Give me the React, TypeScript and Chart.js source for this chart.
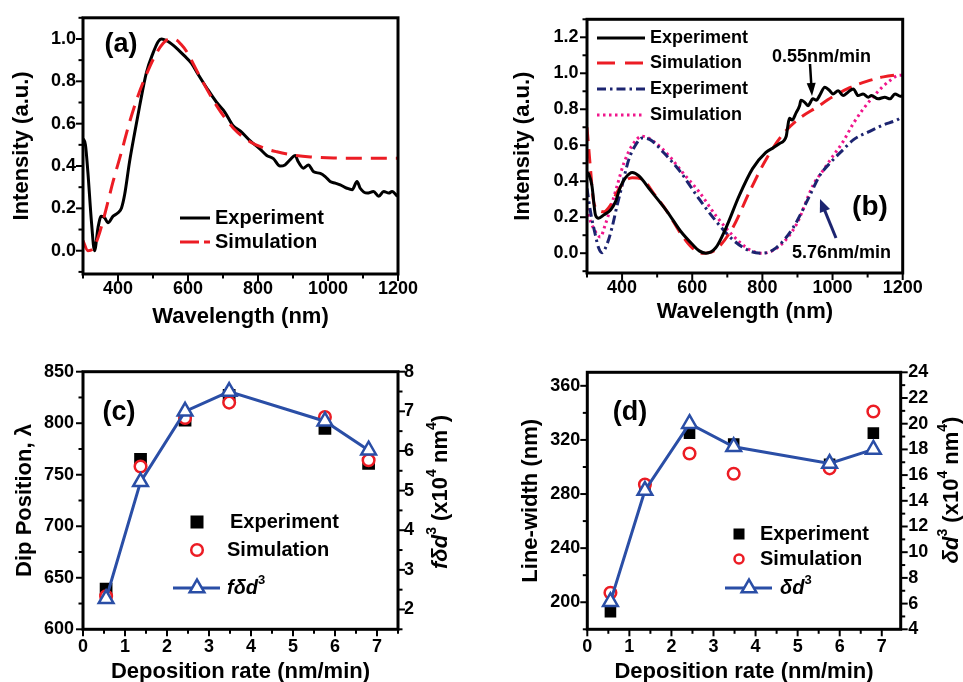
import React, { useEffect, useRef } from 'react';
import { Chart, registerables } from 'chart.js';

Chart.register(...registerables);

const FONT = '"Liberation Sans", Arial, Helvetica, sans-serif';
Chart.defaults.font.family = FONT;
Chart.defaults.color = '#000';

const BLACK = '#000000';
const RED = '#ec1c24';
const NAVY = '#1c2470';
const PINK = '#f0168c';
const BLUE = '#2a4ea6';

// ---------------- Panel (a) data ----------------
const A_EXP_WL = [300, 307, 314, 324, 333, 343, 352, 362, 371, 386, 400, 410, 419, 433, 448, 462, 481, 500, 515, 524, 543, 567, 590, 610, 630, 655, 682, 705, 729, 750, 777, 806, 825, 844, 863, 877, 892, 906, 915, 930, 944, 959, 978, 992, 1006, 1021, 1035, 1054, 1069, 1083, 1092, 1112, 1130, 1145, 1159, 1174, 1183, 1198];
const A_EXP_I = [0.53, 0.5, 0.37, 0.14, 0.0, 0.11, 0.163, 0.155, 0.132, 0.163, 0.179, 0.202, 0.265, 0.42, 0.56, 0.685, 0.84, 0.933, 0.988, 1.0, 0.988, 0.957, 0.92, 0.885, 0.83, 0.765, 0.7, 0.655, 0.59, 0.565, 0.52, 0.48, 0.45, 0.435, 0.4, 0.405, 0.43, 0.45, 0.42, 0.39, 0.405, 0.373, 0.365, 0.35, 0.327, 0.319, 0.311, 0.295, 0.288, 0.327, 0.295, 0.272, 0.28, 0.257, 0.28, 0.272, 0.28, 0.257];
const A_SIM_WL = [300, 314, 328, 343, 362, 386, 410, 433, 457, 481, 505, 529, 548, 565, 580, 596, 630, 682, 729, 777, 825, 854, 900, 950, 1016, 1100, 1200];
const A_SIM_I = [0.047, 0.0, 0.008, 0.062, 0.171, 0.327, 0.467, 0.607, 0.731, 0.832, 0.918, 0.98, 1.0, 0.997, 0.975, 0.941, 0.835, 0.684, 0.58, 0.515, 0.48, 0.467, 0.452, 0.443, 0.438, 0.437, 0.437];

// ---------------- Panel (b) data ----------------
const B_EXP055_WL = [300, 305, 314, 324, 333, 348, 367, 381, 395, 410, 429, 448, 481, 529, 567, 600, 620, 639, 667, 696, 734, 772, 810, 830, 849, 868, 872, 877, 885, 896, 906, 910, 920, 930, 944, 954, 963, 978, 992, 1001, 1016, 1030, 1044, 1059, 1073, 1087, 1102, 1111, 1130, 1149, 1164, 1178, 1193, 1200];
const B_EXP055_I = [0.45, 0.44, 0.376, 0.213, 0.194, 0.213, 0.24, 0.285, 0.367, 0.42, 0.449, 0.43, 0.349, 0.23, 0.122, 0.05, 0.013, 0.0, 0.03, 0.14, 0.32, 0.47, 0.56, 0.585, 0.61, 0.65, 0.7, 0.75, 0.74, 0.78, 0.82, 0.85, 0.84, 0.82, 0.858, 0.85, 0.876, 0.922, 0.903, 0.885, 0.903, 0.876, 0.895, 0.913, 0.876, 0.885, 0.867, 0.876, 0.858, 0.867, 0.858, 0.885, 0.873, 0.875];
const B_SIM055_WL = [300, 310, 319, 333, 348, 367, 386, 405, 429, 457, 491, 529, 567, 600, 629, 667, 715, 763, 810, 858, 906, 954, 1001, 1049, 1097, 1145, 1200];
const B_SIM055_I = [0.7, 0.467, 0.285, 0.24, 0.23, 0.267, 0.34, 0.394, 0.42, 0.412, 0.33, 0.23, 0.11, 0.03, 0.0, 0.02, 0.14, 0.34, 0.52, 0.66, 0.75, 0.81, 0.87, 0.92, 0.955, 0.98, 0.995];
const B_EXP576_WL = [300, 310, 324, 333, 343, 357, 371, 386, 400, 419, 438, 457, 481, 519, 567, 620, 667, 715, 763, 801, 839, 887, 935, 963, 997, 1030, 1059, 1106, 1145, 1183, 1200];
const B_EXP576_I = [0.36, 0.23, 0.1, 0.03, 0.003, 0.05, 0.14, 0.267, 0.376, 0.52, 0.6, 0.64, 0.63, 0.558, 0.45, 0.3, 0.18, 0.076, 0.013, 0.0, 0.03, 0.14, 0.32, 0.43, 0.51, 0.575, 0.63, 0.677, 0.713, 0.74, 0.76];
const B_SIM576_WL = [300, 310, 324, 338, 352, 367, 386, 405, 429, 457, 491, 539, 572, 620, 667, 715, 763, 801, 849, 897, 945, 973, 1001, 1030, 1059, 1087, 1116, 1140, 1164, 1183, 1200];
const B_SIM576_I = [0.25, 0.176, 0.12, 0.09, 0.158, 0.25, 0.376, 0.5, 0.6, 0.65, 0.62, 0.53, 0.45, 0.34, 0.21, 0.1, 0.02, 0.0, 0.04, 0.16, 0.38, 0.46, 0.54, 0.62, 0.72, 0.8, 0.87, 0.92, 0.96, 0.985, 0.99];

// ---------------- Panels (c), (d) data ----------------
const RATES = [0.55, 1.37, 2.43, 3.48, 5.76, 6.8];
const DIP_EXP = [639, 765, 803, 827, 795, 761];
const DIP_SIM = [632, 758, 805, 820, 806, 764];
const F_DELTA_D3 = [2.27, 5.22, 7.0, 7.5, 6.75, 6.02];
const LW_EXP = [193, 283, 325, 317, 302, 325];
const LW_SIM = [207, 287, 310, 295, 299, 341];
const DELTA_D3 = [6.15, 14.8, 20.0, 18.2, 16.9, 18.0];

// ---------------- tick labels ----------------
const WL_TICKS = [400, 600, 800, 1000, 1200];
const A_I_TICKS = [0, 0.2, 0.4, 0.6, 0.8, 1.0];
const B_I_TICKS = [0, 0.2, 0.4, 0.6, 0.8, 1.0, 1.2];
const RATE_TICKS = [0, 1, 2, 3, 4, 5, 6, 7];
const DIP_TICKS = [600, 650, 700, 750, 800, 850];
const FDD_TICKS = [2, 3, 4, 5, 6, 7, 8];
const LW_TICKS = [200, 240, 280, 320, 360];
const DD_TICKS = [4, 6, 8, 10, 12, 14, 16, 18, 20, 22, 24];

type Seg = { t: string; it?: boolean; sup?: boolean };

const pts = (xs: number[], ys: number[]) => xs.map((x, i) => ({ x, y: ys[i] }));

function segFont(s: Seg, size: number) {
  const sz = s.sup ? Math.round(size * 0.64) : size;
  return `${s.it ? 'italic ' : ''}bold ${sz}px ${FONT}`;
}
function richWidth(ctx: CanvasRenderingContext2D, segs: Seg[], size: number) {
  let w = 0;
  for (const s of segs) {
    ctx.font = segFont(s, size);
    w += ctx.measureText(s.t).width;
  }
  return w;
}
function drawRich(ctx: CanvasRenderingContext2D, segs: Seg[], x: number, y: number, size: number, align: 'left' | 'center') {
  const w = richWidth(ctx, segs, size);
  let cx = align === 'center' ? x - w / 2 : x;
  ctx.textBaseline = 'middle';
  ctx.textAlign = 'left';
  ctx.fillStyle = '#000';
  for (const s of segs) {
    ctx.font = segFont(s, size);
    ctx.fillText(s.t, cx, s.sup ? y - size * 0.38 : y);
    cx += ctx.measureText(s.t).width;
  }
}
function text(ctx: CanvasRenderingContext2D, str: string, x: number, y: number, size: number, align: CanvasTextAlign = 'left') {
  ctx.font = `bold ${size}px ${FONT}`;
  ctx.fillStyle = '#000';
  ctx.textAlign = align;
  ctx.textBaseline = 'middle';
  ctx.fillText(str, x, y);
}
function lineSample(ctx: CanvasRenderingContext2D, x1: number, x2: number, y: number, color: string, width: number, dash: number[]) {
  ctx.save();
  ctx.strokeStyle = color;
  ctx.lineWidth = width;
  ctx.setLineDash(dash);
  ctx.beginPath();
  ctx.moveTo(x1, y);
  ctx.lineTo(x2, y);
  ctx.stroke();
  ctx.restore();
}
function square(ctx: CanvasRenderingContext2D, x: number, y: number, side: number) {
  ctx.fillStyle = '#000';
  ctx.fillRect(x - side / 2, y - side / 2, side, side);
}
function circle(ctx: CanvasRenderingContext2D, x: number, y: number, r: number) {
  ctx.save();
  ctx.strokeStyle = RED;
  ctx.fillStyle = '#fff';
  ctx.lineWidth = 2.5;
  ctx.setLineDash([]);
  ctx.beginPath();
  ctx.arc(x, y, r, 0, Math.PI * 2);
  ctx.fill();
  ctx.stroke();
  ctx.restore();
}
function triangle(ctx: CanvasRenderingContext2D, x: number, y: number, r: number) {
  ctx.save();
  ctx.strokeStyle = BLUE;
  ctx.fillStyle = '#fff';
  ctx.lineWidth = 2.5;
  ctx.beginPath();
  ctx.moveTo(x, y - r);
  ctx.lineTo(x + 0.866 * r, y + r / 2);
  ctx.lineTo(x - 0.866 * r, y + r / 2);
  ctx.closePath();
  ctx.fill();
  ctx.stroke();
  ctx.restore();
}
function arrow(ctx: CanvasRenderingContext2D, x1: number, y1: number, x2: number, y2: number, color: string, lw: number, hl: number, hw: number) {
  const dx = x2 - x1, dy = y2 - y1;
  const len = Math.hypot(dx, dy);
  const ux = dx / len, uy = dy / len;
  const bx = x2 - ux * hl, by = y2 - uy * hl;
  ctx.save();
  ctx.strokeStyle = color;
  ctx.fillStyle = color;
  ctx.lineWidth = lw;
  ctx.beginPath();
  ctx.moveTo(x1, y1);
  ctx.lineTo(bx + ux * 2, by + uy * 2);
  ctx.stroke();
  ctx.beginPath();
  ctx.moveTo(x2, y2);
  ctx.lineTo(bx - uy * hw / 2, by + ux * hw / 2);
  ctx.lineTo(bx + uy * hw / 2, by - ux * hw / 2);
  ctx.closePath();
  ctx.fill();
  ctx.restore();
}

interface AxisSpec {
  id: string;
  pos: 'left' | 'right' | 'bottom';
  min: number;
  max: number;
  majors: number[];
  dec: number;
  pad: number;
  title?: string;
}
interface PanelSpec {
  rect: [number, number, number, number];
  area: [number, number, number, number];
  yTitleX: number;
  xTitleY: number;
  axes: AxisSpec[];
  datasets: any[];
  decorate: (ctx: CanvasRenderingContext2D) => void;
}

function minorsOf(majors: number[], min: number, max: number) {
  const out: number[] = [];
  const step = majors[1] - majors[0];
  for (let v = majors[0] - step / 2; v <= max + 1e-9; v += step) {
    if (v >= min - 1e-9) out.push(v);
  }
  return out;
}

function makeConfig(spec: PanelSpec): any {
  const [cx, cy, cw, ch] = spec.rect;
  const [L, T, R, B] = spec.area;
  const half = (22 * 1.2) / 2;
  const yLeft = spec.yTitleX - half;
  const xBottom = spec.xTitleY + half;
  const hasRight = spec.axes.some((a) => a.pos === 'right');
  const rightW = hasRight ? 40 : 0;

  const scales: any = {};
  for (const a of spec.axes) {
    scales[a.id] = {
      type: 'linear',
      position: a.pos,
      min: a.min,
      max: a.max,
      grid: { display: false, drawTicks: false },
      border: { display: false },
      ticks: {
        color: '#000',
        font: { family: FONT, size: 18, weight: 'bold' },
        padding: a.pad,
        maxRotation: 0,
        minRotation: 0,
        autoSkip: false,
        callback: (v: any) => Number(v).toFixed(a.dec),
      },
      afterBuildTicks: (s: any) => {
        s.ticks = a.majors.map((v) => ({ value: v }));
      },
      afterFit: (s: any) => {
        if (a.pos === 'bottom') s.height = xBottom - B;
        else if (a.pos === 'left') s.width = L - yLeft;
        else s.width = rightW;
      },
      title: a.title
        ? { display: true, text: a.title, color: '#000', font: { family: FONT, size: 22, weight: 'bold' }, padding: 0 }
        : { display: false },
    };
  }

  const deco = {
    id: 'deco',
    afterDraw(chart: any) {
      const ctx: CanvasRenderingContext2D = chart.ctx;
      const ca = chart.chartArea;
      ctx.save();
      ctx.strokeStyle = '#000';
      ctx.lineWidth = 2;
      ctx.setLineDash([]);
      for (const a of spec.axes) {
        const s = chart.scales[a.id];
        const draw = (v: number, len: number) => {
          const p = s.getPixelForValue(v);
          ctx.beginPath();
          if (a.pos === 'bottom') {
            ctx.moveTo(p, ca.bottom);
            ctx.lineTo(p, ca.bottom + len);
          } else if (a.pos === 'left') {
            ctx.moveTo(ca.left, p);
            ctx.lineTo(ca.left - len, p);
          } else {
            ctx.moveTo(ca.right, p);
            ctx.lineTo(ca.right + len, p);
          }
          ctx.stroke();
        };
        a.majors.forEach((v) => draw(v, 7));
        minorsOf(a.majors, a.min, a.max).forEach((v) => draw(v, 4.5));
      }
      ctx.lineWidth = 3;
      ctx.strokeRect(ca.left, ca.top, ca.right - ca.left, ca.bottom - ca.top);
      ctx.translate(-cx, -cy);
      spec.decorate(ctx);
      ctx.restore();
    },
  };

  return {
    type: 'line',
    data: { datasets: spec.datasets },
    options: {
      responsive: false,
      maintainAspectRatio: false,
      animation: false,
      events: [],
      layout: {
        padding: { left: yLeft - cx, top: T - cy, right: cx + cw - R - rightW, bottom: cy + ch - xBottom },
      },
      plugins: { legend: { display: false }, tooltip: { enabled: false } },
      scales,
    },
    plugins: [deco],
  };
}

const curve = (xs: number[], ys: number[], color: string, dash: number[], order: number) => ({
  data: pts(xs, ys),
  borderColor: color,
  borderWidth: 3,
  borderDash: dash,
  pointRadius: 0,
  cubicInterpolationMode: 'monotone',
  fill: false,
  order,
});

const FDD: Seg[] = [{ t: 'f', it: true }, { t: 'δ', it: true }, { t: 'd', it: true }, { t: '3', sup: true }];
const DD: Seg[] = [{ t: 'δ', it: true }, { t: 'd', it: true }, { t: '3', sup: true }];
const UNIT: Seg[] = [{ t: ' (x10' }, { t: '4', sup: true }, { t: ' nm' }, { t: '4', sup: true }, { t: ')' }];

const PANELS: PanelSpec[] = [
  {
    rect: [0, 0, 481, 341],
    area: [83, 14, 398, 274],
    yTitleX: 22,
    xTitleY: 317,
    axes: [
      { id: 'x', pos: 'bottom', min: 300, max: 1200, majors: WL_TICKS, dec: 0, pad: 4, title: 'Wavelength (nm)' },
      { id: 'y', pos: 'left', min: -0.11, max: 1.1, majors: A_I_TICKS, dec: 1, pad: 7, title: 'Intensity (a.u.)' },
    ],
    datasets: [
      curve(A_EXP_WL, A_EXP_I, BLACK, [], 1),
      curve(A_SIM_WL, A_SIM_I, RED, [16, 9], 0),
    ],
    decorate: (ctx) => {
      text(ctx, '(a)', 121, 45, 27, 'center');
      lineSample(ctx, 180, 210, 218, BLACK, 3, []);
      text(ctx, 'Experiment', 215, 218, 20);
      lineSample(ctx, 180, 210, 242, RED, 3, [19, 5, 6, 60]);
      text(ctx, 'Simulation', 215, 242, 20);
    },
  },
  {
    rect: [481, 0, 482, 341],
    area: [587, 14, 902.7, 273],
    yTitleX: 522.5,
    xTitleY: 312,
    axes: [
      { id: 'x', pos: 'bottom', min: 300, max: 1200, majors: WL_TICKS, dec: 0, pad: 4.5, title: 'Wavelength (nm)' },
      { id: 'y', pos: 'left', min: -0.11, max: 1.3, majors: B_I_TICKS, dec: 1, pad: 8.5, title: 'Intensity (a.u.)' },
    ],
    datasets: [
      curve(B_EXP055_WL, B_EXP055_I, BLACK, [], 0),
      curve(B_SIM055_WL, B_SIM055_I, RED, [14, 8], 1),
      curve(B_EXP576_WL, B_EXP576_I, NAVY, [9, 4, 2.5, 4], 2),
      curve(B_SIM576_WL, B_SIM576_I, PINK, [2.5, 3.5], 3),
    ],
    decorate: (ctx) => {
      lineSample(ctx, 597, 645, 38, BLACK, 3, []);
      text(ctx, 'Experiment', 650, 38, 18);
      lineSample(ctx, 597, 645, 63, RED, 3, [18, 10]);
      text(ctx, 'Simulation', 650, 63, 18);
      lineSample(ctx, 597, 645, 89, NAVY, 3, [9, 4, 2.5, 4]);
      text(ctx, 'Experiment', 650, 89, 18);
      lineSample(ctx, 597, 645, 115, PINK, 3, [2.5, 3.5]);
      text(ctx, 'Simulation', 650, 115, 18);
      text(ctx, '0.55nm/min', 772, 57, 18);
      arrow(ctx, 810, 64, 812, 96, BLACK, 2.5, 13, 9);
      text(ctx, '(b)', 870, 207, 28, 'center');
      text(ctx, '5.76nm/min', 792, 253, 18);
      arrow(ctx, 836, 238, 820, 199, NAVY, 3, 13, 11);
    },
  },
  {
    rect: [0, 341, 481, 345],
    area: [83, 371.7, 398, 629.3],
    yTitleX: 25,
    xTitleY: 672,
    axes: [
      { id: 'x', pos: 'bottom', min: 0, max: 7.5, majors: RATE_TICKS, dec: 0, pad: 6.5, title: 'Deposition rate (nm/min)' },
      { id: 'y', pos: 'left', min: 600, max: 850, majors: DIP_TICKS, dec: 0, pad: 9, title: 'Dip Position, λ' },
      { id: 'y2', pos: 'right', min: 1.5, max: 8, majors: FDD_TICKS, dec: 0, pad: 6 },
    ],
    datasets: [
      {
        data: pts(RATES, F_DELTA_D3), yAxisID: 'y2', borderColor: BLUE, borderWidth: 3, pointStyle: 'triangle',
        pointRadius: 8.5, pointBackgroundColor: '#fff', pointBorderColor: BLUE, pointBorderWidth: 2.5, order: 0,
      },
      {
        data: pts(RATES, DIP_SIM), yAxisID: 'y', showLine: false, pointStyle: 'circle', pointRadius: 5.8,
        pointBackgroundColor: '#fff', pointBorderColor: RED, pointBorderWidth: 2.5, borderColor: RED, order: 1,
      },
      {
        data: pts(RATES, DIP_EXP), yAxisID: 'y', showLine: false, pointStyle: 'rect', pointRadius: 9,
        pointBackgroundColor: BLACK, pointBorderColor: BLACK, pointBorderWidth: 0, borderColor: BLACK, order: 2,
      },
    ],
    decorate: (ctx) => {
      text(ctx, '(c)', 119, 413, 27, 'center');
      square(ctx, 197, 522, 13);
      text(ctx, 'Experiment', 230, 522, 20);
      circle(ctx, 197, 550, 5.8);
      text(ctx, 'Simulation', 227, 550, 20);
      lineSample(ctx, 173, 220, 588, BLUE, 3, []);
      triangle(ctx, 197, 588, 8.5);
      drawRich(ctx, FDD, 227, 588, 20, 'left');
      ctx.save();
      ctx.translate(441, 492);
      ctx.rotate(-Math.PI / 2);
      drawRich(ctx, [...FDD, ...UNIT], 0, 0, 22, 'center');
      ctx.restore();
    },
  },
  {
    rect: [481, 341, 482, 345],
    area: [587.3, 372.3, 900.7, 629.3],
    yTitleX: 531,
    xTitleY: 672,
    axes: [
      { id: 'x', pos: 'bottom', min: 0, max: 7.45, majors: RATE_TICKS, dec: 0, pad: 6.5, title: 'Deposition rate (nm/min)' },
      { id: 'y', pos: 'left', min: 180, max: 370, majors: LW_TICKS, dec: 0, pad: 7, title: 'Line-width (nm)' },
      { id: 'y2', pos: 'right', min: 4, max: 24, majors: DD_TICKS, dec: 0, pad: 7.5 },
    ],
    datasets: [
      {
        data: pts(RATES, DELTA_D3), yAxisID: 'y2', borderColor: BLUE, borderWidth: 3, pointStyle: 'triangle',
        pointRadius: 8.5, pointBackgroundColor: '#fff', pointBorderColor: BLUE, pointBorderWidth: 2.5, order: 0,
      },
      {
        data: pts(RATES, LW_SIM), yAxisID: 'y', showLine: false, pointStyle: 'circle', pointRadius: 5.8,
        pointBackgroundColor: '#fff', pointBorderColor: RED, pointBorderWidth: 2.5, borderColor: RED, order: 1,
      },
      {
        data: pts(RATES, LW_EXP), yAxisID: 'y', showLine: false, pointStyle: 'rect', pointRadius: 8.2,
        pointBackgroundColor: BLACK, pointBorderColor: BLACK, pointBorderWidth: 0, borderColor: BLACK, order: 2,
      },
    ],
    decorate: (ctx) => {
      text(ctx, '(d)', 630, 413, 27, 'center');
      square(ctx, 739, 534, 11);
      text(ctx, 'Experiment', 760, 534, 20);
      circle(ctx, 739, 559, 4.5);
      text(ctx, 'Simulation', 760, 559, 20);
      lineSample(ctx, 725, 772, 588, BLUE, 3, []);
      triangle(ctx, 749, 588, 8.5);
      drawRich(ctx, DD, 780, 588, 20, 'left');
      ctx.save();
      ctx.translate(952, 490);
      ctx.rotate(-Math.PI / 2);
      drawRich(ctx, [...DD, ...UNIT], 0, 0, 22, 'center');
      ctx.restore();
    },
  },
];

function Panel({ spec }: { spec: PanelSpec }) {
  const ref = useRef<HTMLCanvasElement>(null);
  useEffect(() => {
    if (!ref.current) return;
    const chart = new Chart(ref.current, makeConfig(spec));
    return () => chart.destroy();
  }, [spec]);
  const [x, y, w, h] = spec.rect;
  return (
    <canvas
      ref={ref}
      width={w}
      height={h}
      style={{ position: 'absolute', left: x, top: y, width: w, height: h, display: 'block' }}
    />
  );
}

export default function App() {
  return (
    <div
      style={{
        position: 'fixed',
        left: 0,
        top: 0,
        width: 963,
        height: 682,
        overflow: 'hidden',
        background: '#ffffff',
      }}
    >
      {PANELS.map((p, i) => (
        <Panel key={i} spec={p} />
      ))}
    </div>
  );
}
